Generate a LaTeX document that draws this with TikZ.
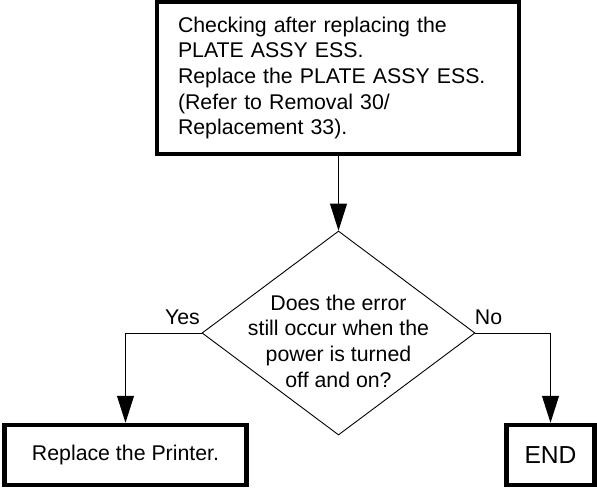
\documentclass[tikz,border=0pt]{standalone}
\usepackage{fontspec}
\setmainfont{Liberation Sans}
\usetikzlibrary{arrows.meta, shapes.geometric, calc}

\begin{document}
\begin{tikzpicture}[x=1pt, y=-1pt,
    every node/.style={font=\fontsize{21.3}{25.7}\selectfont},
    stepbox/.style={draw, line width=4.5pt, rectangle, inner sep=0pt},
    decision/.style={draw, line width=0.9pt, diamond, inner sep=0pt,
        minimum width=273pt, minimum height=204pt},
    flow/.style={line width=0.9pt, -{Triangle[length=27pt, width=17pt]}}]

    \useasboundingbox (0,0) rectangle (597,488);

    % Boxes
    \node[stepbox, minimum width=362pt, minimum height=152pt, text width=320pt,
          align=left] (check) at (338,78)
        {Checking after replacing the\\
         PLATE ASSY ESS.\\
         Replace the PLATE ASSY ESS.\\
         (Refer to Removal 30/\\
         Replacement 33).};

    \node[decision] (ask) at (338.5,333) {};
    \node[align=center] (asktext) at (338.5,341)
        {Does the error\\still occur when the\\power is turned\\off and on?};

    \node[stepbox, minimum width=242pt, minimum height=60pt] (printer) at (125.5,455)
        {Replace the Printer.};
    \node[stepbox, minimum width=88pt, minimum height=60pt,
          font=\fontsize{24.6}{28}\selectfont] (end) at (550.5,455)
        {END};

    % Connectors
    \draw[flow] (check.south -| ask.north) -- (ask.north);
    \draw[flow] (ask.west) -| (printer.north);
    \draw[flow] (ask.east) -| (end.north);

    % Labels
    \node (yes) at (182.5,317) {Yes};
    \node (no) at (488.5,317) {No};

\end{tikzpicture}
\end{document}
